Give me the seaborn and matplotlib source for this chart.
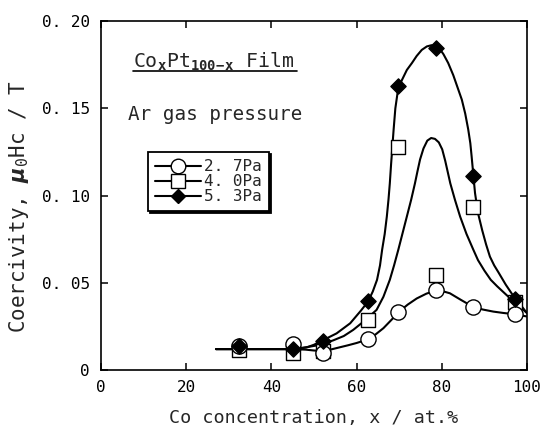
import matplotlib
matplotlib.use("Agg")
import matplotlib.pyplot as plt
import seaborn as sns
from matplotlib.lines import Line2D

# Measured coercivity of CoxPt(100-x) films
conc = [32.5, 45.0, 52.0, 62.7, 69.8, 78.6, 87.3, 97.2]
hc_27 = [0.0135, 0.0148, 0.0100, 0.0176, 0.0335, 0.0456, 0.0364, 0.0320]
hc_40 = [0.0115, 0.0100, 0.0110, 0.0287, 0.1280, 0.0546, 0.0935, 0.0390]
hc_53 = [0.0140, 0.0122, 0.0167, 0.0395, 0.1630, 0.1845, 0.1115, 0.0410]

# Hand-drawn guide curves (x, y) for each pressure
fit_x_27 = [27, 45, 48, 50, 52.2, 54, 56, 58, 60, 62.7, 64.5, 66.3, 68.2, 70, 72, 74.1, 76.4, 78.6,
            80.2, 81.9, 84.5, 87.2, 89.6, 92.1, 94.5, 97.0, 100]
fit_y_27 = [0.012, 0.012, 0.0117, 0.0112, 0.0110, 0.0118, 0.013, 0.0142, 0.0155, 0.0176, 0.0205, 0.024,
            0.0288, 0.0335, 0.0375, 0.041, 0.0438, 0.0455, 0.0452, 0.044, 0.0402, 0.0364, 0.0347,
            0.0335, 0.0327, 0.0320, 0.0307]

fit_x_40 = [27, 45, 48, 51.4, 54.5, 57, 59.2, 62, 64.7, 66.3, 67.8, 68.8, 69.8, 70.8, 71.8, 72.8, 73.7,
            74.3, 74.9, 75.7, 76.6, 77.5, 78.4, 79.3, 80.1, 80.8, 81.4, 82.0, 83.1, 84.3, 85.8, 87.4,
            88.5, 90.0, 91.5, 93.0, 95.2, 97.0, 100]
fit_y_40 = [0.012, 0.012, 0.013, 0.0144, 0.017, 0.0195, 0.023, 0.0285, 0.0345, 0.042, 0.0517, 0.060,
            0.069, 0.0785, 0.088, 0.0975, 0.107, 0.114, 0.1207, 0.127, 0.1315, 0.1330, 0.1325, 0.1305,
            0.1265, 0.120, 0.1135, 0.107, 0.0975, 0.088, 0.078, 0.069, 0.063, 0.057, 0.0517, 0.048,
            0.043, 0.039, 0.0327]

fit_x_53 = [27, 45, 47, 48.3, 50, 52.2, 55.3, 58.5, 61, 62.7, 63.8, 64.8, 65.5, 66.0, 66.6, 67.1, 67.5,
            67.8, 68.1, 68.4, 68.7, 69.1, 69.8, 70.8, 71.8, 73.0, 74.1, 75.3, 76.5, 77.6, 78.6, 79.6,
            80.4, 81.5, 82.7, 83.7, 84.7, 85.5, 86.2, 86.7, 87.0, 87.4, 87.8, 88.5, 89.5, 90.4, 91.3,
            92.3, 93.3, 95.0, 97.2, 98.6, 100]
fit_y_53 = [0.012, 0.012, 0.0125, 0.013, 0.0145, 0.0172, 0.021, 0.0268, 0.034, 0.0393, 0.045, 0.0517,
            0.060, 0.069, 0.078, 0.088, 0.098, 0.107, 0.118, 0.128, 0.138, 0.150, 0.162, 0.167, 0.172,
            0.176, 0.180, 0.1835, 0.1855, 0.1862, 0.1855, 0.1838, 0.181, 0.176, 0.169, 0.162, 0.155,
            0.147, 0.138, 0.130, 0.1226, 0.112, 0.1015, 0.090, 0.080, 0.072, 0.065, 0.060, 0.056,
            0.049, 0.041, 0.037, 0.0326]

x_ticks = [0, 20, 40, 60, 80, 100]
x_tick_labels = ["0", "20", "40", "60", "80", "100"]
y_ticks = [0, 0.05, 0.10, 0.15, 0.20]
y_tick_labels = ["0", "0. 05", "0. 10", "0. 15", "0. 20"]
series_labels = ["2. 7Pa", "4. 0Pa", "5. 3Pa"]

sns.set_theme(style="ticks")
plt.rcParams["font.family"] = ["DejaVu Sans Mono", "DejaVu Sans"]
plt.rcParams["mathtext.fontset"] = "custom"
plt.rcParams["mathtext.rm"] = "DejaVu Sans Mono"
plt.rcParams["mathtext.it"] = "DejaVu Sans:italic:bold"
plt.rcParams["mathtext.bf"] = "DejaVu Sans Mono:bold"

fig = plt.figure(figsize=(5.42, 4.40), dpi=100)
ax = fig.add_axes([0.1863, 0.159, 0.786, 0.793])

for fx, fy in [(fit_x_27, fit_y_27), (fit_x_40, fit_y_40), (fit_x_53, fit_y_53)]:
    sns.lineplot(x=fx, y=fy, sort=False, estimator=None, color="black", lw=1.5, ax=ax, zorder=2)

sns.scatterplot(x=conc, y=hc_40, marker="s", s=105, facecolor="white", edgecolor="black",
                linewidth=1.0, ax=ax, zorder=3)
sns.scatterplot(x=conc, y=hc_27, marker="o", s=120, facecolor="white", edgecolor="black",
                linewidth=1.0, ax=ax, zorder=4)
sns.scatterplot(x=conc, y=hc_53, marker="D", s=60, facecolor="black", edgecolor="black",
                linewidth=1.0, ax=ax, zorder=5)

ax.set_xlim(0, 100)
ax.set_ylim(0, 0.2)
ax.set_xticks(x_ticks)
ax.set_xticklabels(x_tick_labels)
ax.set_yticks(y_ticks)
ax.set_yticklabels(y_tick_labels)
ax.tick_params(direction="in", length=5, width=1.1, top=True, right=True, labelsize=11.5,
               colors="black")
ax.tick_params(axis="x", pad=7)
ax.tick_params(axis="y", pad=8)
for sp in ax.spines.values():
    sp.set_linewidth(1.2)
    sp.set_color("black")

ax.set_xlabel("Co concentration, x / at.%", fontsize=13.2)
ax.xaxis.set_label_coords(0.50, -0.112)
ax.set_ylabel(r"Coercivity, $\mu_{\rm 0}$Hc / T", fontsize=15)
ax.yaxis.set_label_coords(-0.165, 0.467)

ax.text(0.075, 0.882, r"Co$_{\bf x}$Pt$_{\bf 100\!-\!x}$ Film", transform=ax.transAxes,
        fontsize=14.3, va="center", ha="left")
ax.plot([0.075, 0.46], [0.857, 0.857], transform=ax.transAxes, color="black", lw=1.2)
ax.text(0.063, 0.731, "Ar gas pressure", transform=ax.transAxes, fontsize=13.9,
        va="center", ha="left")

handles = [
    Line2D([], [], color="black", lw=1.5, marker="o", markersize=10.5,
           markerfacecolor="white", markeredgecolor="black"),
    Line2D([], [], color="black", lw=1.5, marker="s", markersize=10,
           markerfacecolor="white", markeredgecolor="black"),
    Line2D([], [], color="black", lw=1.5, marker="D", markersize=7.5,
           markerfacecolor="black", markeredgecolor="black"),
]
leg = ax.legend(handles, series_labels, loc="upper left", bbox_to_anchor=(0.110, 0.625),
                borderaxespad=0, fontsize=11.5, handlelength=2.9, handletextpad=0.15,
                labelspacing=0.0, borderpad=0.45, frameon=True, fancybox=False,
                shadow={"color": "black", "alpha": 1.0, "ox": 1.5, "oy": -1.5})
leg.get_frame().set_edgecolor("black")
leg.get_frame().set_linewidth(1.3)
leg.get_frame().set_facecolor("white")

fig.savefig("out.png", dpi=100)
